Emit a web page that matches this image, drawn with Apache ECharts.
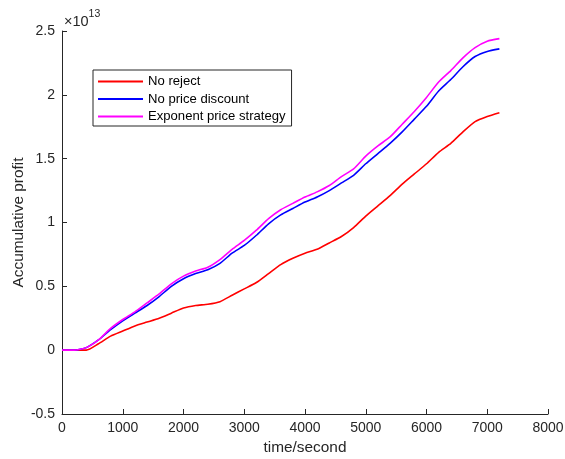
<!DOCTYPE html>
<html>
<head>
<meta charset="utf-8">
<script src="https://cdn.jsdelivr.net/npm/echarts@6/dist/echarts.min.js"></script>
<style>
  html, body { margin: 0; padding: 0; background: #fff; }
  #main { width: 565px; height: 459px; }
</style>
</head>
<body>
<div id="main"></div>
<script>
// time in seconds
const times = [0, 200, 400, 600, 800, 1000, 1200, 1400, 1600, 1800, 2000, 2200, 2400, 2600, 2800, 3000,
  3200, 3400, 3600, 3800, 4000, 4200, 4400, 4600, 4800, 5000, 5200, 5400, 5600, 5800, 6000,
  6200, 6400, 6600, 6800, 7000, 7200];

// accumulative profit, in units of 1e13
const noReject = [0, 0, 0, 0.05, 0.11, 0.15, 0.19, 0.22, 0.25, 0.29, 0.33, 0.35, 0.36, 0.38, 0.43, 0.48,
  0.53, 0.60, 0.67, 0.72, 0.76, 0.79, 0.84, 0.89, 0.96, 1.05, 1.13, 1.21, 1.30, 1.38, 1.46,
  1.55, 1.62, 1.71, 1.79, 1.83, 1.86];
const noPriceDiscount = [0, 0, 0.02, 0.08, 0.16, 0.23, 0.29, 0.35, 0.42, 0.50, 0.56, 0.60, 0.63, 0.68, 0.76, 0.82,
  0.90, 0.99, 1.06, 1.11, 1.16, 1.20, 1.25, 1.31, 1.37, 1.46, 1.54, 1.62, 1.71, 1.81, 1.91,
  2.03, 2.12, 2.22, 2.30, 2.34, 2.36];
const exponentPrice = [0, 0, 0.02, 0.08, 0.17, 0.24, 0.30, 0.37, 0.44, 0.52, 0.58, 0.62, 0.65, 0.71, 0.79, 0.86,
  0.94, 1.03, 1.10, 1.15, 1.20, 1.24, 1.29, 1.36, 1.42, 1.52, 1.60, 1.67, 1.77, 1.87, 1.98,
  2.10, 2.19, 2.29, 2.37, 2.42, 2.44];

const seriesNames = ['No reject', 'No price discount', 'Exponent price strategy'];
const seriesColors = ['#ff0000', '#0000ff', '#ff00ff'];
const seriesData = [noReject, noPriceDiscount, exponentPrice];

const font = 'Liberation Sans, Arial, Helvetica, sans-serif';
const axisColor = '#262626';

const chart = echarts.init(document.getElementById('main'));

const option = {
  animation: false,
  grid: { left: 62, right: 17, top: 31, bottom: 45, outerBoundsMode: 'none', containLabel: false },
  legend: {
    data: seriesNames,
    orient: 'vertical',
    left: 93,
    top: 70,
    itemWidth: 45,
    itemHeight: 14,
    itemGap: 4.5,
    padding: [5, 6, 3, 4],
    borderColor: axisColor,
    borderWidth: 1,
    itemStyle: { opacity: 0 },
    textStyle: { fontFamily: font, fontSize: 13.1, color: '#000' }
  },
  xAxis: {
    type: 'value',
    min: 0,
    max: 8000,
    interval: 1000,
    name: 'time/second',
    nameLocation: 'middle',
    nameGap: 26,
    nameMoveOverlap: false,
    nameTextStyle: { fontFamily: font, fontSize: 15.4, color: axisColor },
    axisLine: { onZero: false, lineStyle: { color: axisColor, width: 1 } },
    axisTick: { inside: true, length: 5, lineStyle: { color: axisColor } },
    axisLabel: { fontFamily: font, fontSize: 14, color: axisColor, margin: 7, formatter: v => String(v) },
    splitLine: { show: false }
  },
  yAxis: {
    type: 'value',
    min: -0.5,
    max: 2.5,
    interval: 0.5,
    name: 'Accumulative profit',
    nameLocation: 'middle',
    nameGap: 36,
    nameMoveOverlap: false,
    nameTextStyle: { fontFamily: font, fontSize: 15.4, color: axisColor },
    axisLine: { show: true, onZero: false, lineStyle: { color: axisColor, width: 1 } },
    axisTick: { show: true, inside: true, length: 5, lineStyle: { color: axisColor } },
    axisLabel: { fontFamily: font, fontSize: 14, color: axisColor, margin: 7, formatter: v => String(v) },
    splitLine: { show: false }
  },
  graphic: [{
    type: 'text',
    left: 64,
    top: 9,
    style: {
      text: '{a|×10}{b|13}',
      rich: {
        a: { fontFamily: font, fontSize: 14.5, fill: axisColor, verticalAlign: 'bottom', lineHeight: 20 },
        b: { fontFamily: font, fontSize: 10.5, fill: axisColor, verticalAlign: 'top', lineHeight: 20, padding: [0, 0, 8, 0] }
      }
    }
  }],
  series: seriesNames.map((name, i) => ({
    name: name,
    type: 'line',
    data: times.map((t, k) => [t, seriesData[i][k]]),
    symbol: 'none',
    smooth: 0.2,
    color: seriesColors[i],
    lineStyle: { color: seriesColors[i], width: 1.6 }
  }))
};

chart.setOption(option);
</script>
</body>
</html>
